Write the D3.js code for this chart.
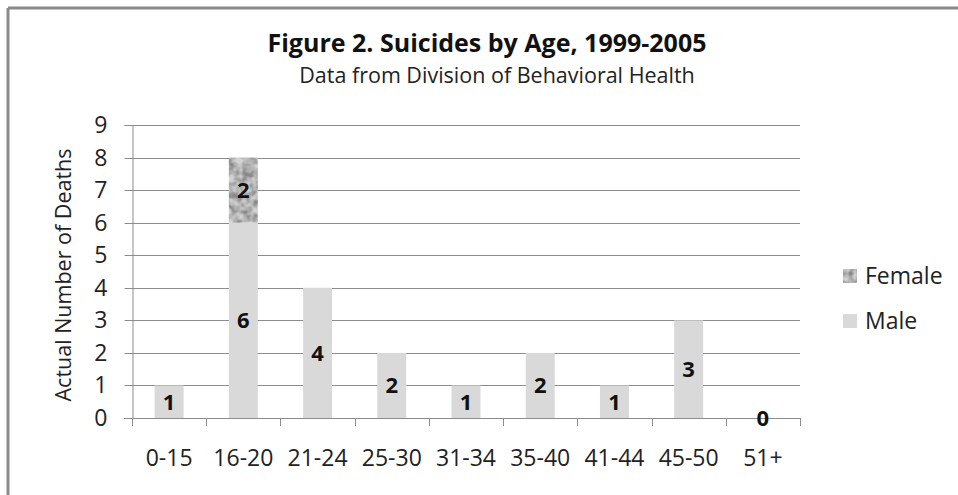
<!DOCTYPE html>
<html>
<head>
<meta charset="utf-8">
<script src="https://cdn.jsdelivr.net/npm/d3@7"></script>
<style>
  html, body { margin: 0; padding: 0; background: #fff; }
  svg { display: block; font-family: "Open Sans", Lato, sans-serif; }
</style>
</head>
<body>
<svg id="chart" width="958" height="495"></svg>
<script>
// Suicides by age group, 1999-2005
const categories = ["0-15", "16-20", "21-24", "25-30", "31-34", "35-40", "41-44", "45-50", "51+"];
const male = [1, 6, 4, 2, 1, 2, 1, 3, 0];
const female = [0, 2, 0, 0, 0, 0, 0, 0, 0];
const yTicks = [0, 1, 2, 3, 4, 5, 6, 7, 8, 9];
const seriesNames = ["Male", "Female"];

const svg = d3.select("#chart");
const W = 958, H = 495;
const plot = { left: 132, right: 800, top: 125, bottom: 418 };
const FONT = "'Open Sans', Lato, sans-serif";
const axisGrey = "#8c8c8c";

const defs = svg.append("defs");
// mottled grey texture for the female segment
const filt = defs.append("filter").attr("id", "mottle")
  .attr("x", 0).attr("y", 0).attr("width", 1).attr("height", 1);
filt.append("feTurbulence").attr("type", "fractalNoise")
  .attr("baseFrequency", 0.14).attr("numOctaves", 2).attr("seed", 11).attr("result", "noise");
filt.append("feColorMatrix").attr("in", "noise").attr("type", "matrix")
  .attr("values", "0 0 0 0 0.25  0 0 0 0 0.25  0 0 0 0 0.25  0 0 0 -2.2 1.6")
  .attr("result", "grey");
filt.append("feFlood").attr("flood-color", "#d2d2d2").attr("result", "base");
filt.append("feComposite").attr("in", "grey").attr("in2", "base").attr("operator", "over").attr("result", "tex");
filt.append("feGaussianBlur").attr("in", "tex").attr("stdDeviation", 0.6).attr("result", "soft");
filt.append("feComposite").attr("in", "soft").attr("in2", "SourceGraphic").attr("operator", "in");

// frame lines (top and left)
svg.append("line").attr("x1", 8).attr("x2", W).attr("y1", 8).attr("y2", 8)
  .attr("stroke", "#8a8a8a").attr("stroke-width", 3);
svg.append("line").attr("x1", 8).attr("x2", 8).attr("y1", 8).attr("y2", H)
  .attr("stroke", "#8a8a8a").attr("stroke-width", 3);

const x = d3.scaleBand().domain(categories).range([plot.left, plot.right]).paddingInner(0.61).paddingOuter(0.305);
const xOuter = d3.scaleBand().domain(categories).range([plot.left, plot.right]);
const y = d3.scaleLinear().domain([0, 9]).range([plot.bottom, plot.top]);

// gridlines
svg.append("g").selectAll("line").data(yTicks.filter(d => d > 0)).join("line")
  .attr("x1", plot.left).attr("x2", plot.right)
  .attr("y1", d => Math.round(y(d)) + 0.5).attr("y2", d => Math.round(y(d)) + 0.5)
  .attr("stroke", axisGrey).attr("stroke-width", 1);

// y axis
const yAxis = svg.append("g").attr("transform", `translate(${plot.left + 0.5},0)`)
  .call(d3.axisLeft(y).tickValues(yTicks).tickSize(8).tickPadding(17).tickFormat(d3.format("d")));
yAxis.select(".domain").attr("stroke", axisGrey);
yAxis.selectAll(".tick line").attr("stroke", axisGrey);
yAxis.selectAll(".tick text").attr("font-size", 23).attr("fill", "#222").attr("font-family", FONT);
yAxis.selectAll(".tick").attr("transform", d => `translate(0,${Math.round(y(d)) + 0.5})`);

// bars
const stackData = categories.map((c, i) => ({ cat: c, Male: male[i], Female: female[i] }));
const stack = d3.stack().keys(seriesNames)(stackData);
const fills = { Male: "#d9d9d9", Female: "#9a9a9a" };
stack.forEach(layer => {
  const g = svg.append("g");
  g.selectAll("rect").data(layer.filter(d => d[1] - d[0] > 0)).join("rect")
    .attr("x", d => x(d.data.cat))
    .attr("width", x.bandwidth())
    .attr("y", d => y(d[1]))
    .attr("height", d => y(d[0]) - y(d[1]))
    .attr("fill", fills[layer.key])
    .attr("filter", layer.key === "Female" ? "url(#mottle)" : null);
});

// x axis
const xAxis = svg.append("g").attr("transform", `translate(0,${plot.bottom + 0.5})`)
  .call(d3.axisBottom(xOuter).tickSize(0).tickPadding(31));
xAxis.select(".domain").attr("stroke", axisGrey).attr("d", `M${plot.left - 8},0H${plot.right}`);
xAxis.selectAll(".tick text").attr("font-size", 23).attr("fill", "#222").attr("font-family", FONT);
svg.append("g").selectAll("line").data(d3.range(categories.length + 1)).join("line")
  .attr("x1", i => Math.round(plot.left + i * xOuter.step()) + 0.5)
  .attr("x2", i => Math.round(plot.left + i * xOuter.step()) + 0.5)
  .attr("y1", plot.bottom).attr("y2", plot.bottom + 8)
  .attr("stroke", axisGrey);

// value labels
stack.forEach(layer => {
  svg.append("g").selectAll("text")
    .data(layer.filter(d => layer.key === "Male" || d[1] - d[0] > 0)).join("text")
    .attr("x", d => x(d.data.cat) + x.bandwidth() / 2)
    .attr("y", d => (y(d[0]) + y(d[1])) / 2)
    .attr("dy", "0.36em")
    .attr("text-anchor", "middle")
    .attr("font-size", 22).attr("font-weight", "bold").attr("fill", "#111")
    .text(d => d[1] - d[0]);
});

// titles
svg.append("text").attr("x", 487).attr("y", 52).attr("text-anchor", "middle")
  .attr("font-size", 25).attr("font-weight", "bold").attr("fill", "#111")
  .text("Figure 2. Suicides by Age, 1999-2005");
svg.append("text").attr("x", 497).attr("y", 83).attr("text-anchor", "middle")
  .attr("font-size", 21.5).attr("fill", "#222")
  .text("Data from Division of Behavioral Health");

// y axis title
svg.append("text").attr("transform", "translate(71,275) rotate(-90)")
  .attr("text-anchor", "middle").attr("font-size", 21.5).attr("fill", "#222")
  .text("Actual Number of Deaths");

// legend
const legend = [{ key: "Female", y: 276 }, { key: "Male", y: 321 }];
const lg = svg.append("g");
lg.selectAll("rect").data(legend).join("rect")
  .attr("x", 843).attr("y", d => d.y - 7).attr("width", 14).attr("height", 14)
  .attr("fill", d => fills[d.key]).attr("filter", d => d.key === "Female" ? "url(#mottle)" : null);
lg.selectAll("text").data(legend).join("text")
  .attr("x", 865).attr("y", d => d.y + 8)
  .attr("font-size", 23).attr("fill", "#222")
  .text(d => d.key);
</script>
</body>
</html>
